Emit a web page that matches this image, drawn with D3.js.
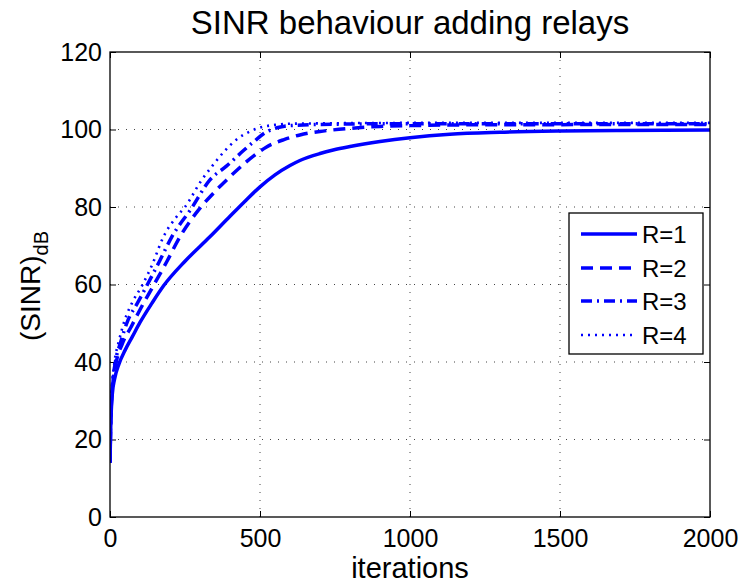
<!DOCTYPE html>
<html>
<head>
<meta charset="utf-8">
<script src="https://cdn.jsdelivr.net/npm/d3@7"></script>
<style>
  html, body { margin: 0; padding: 0; background: #fff; }
  svg { display: block; font-family: "Liberation Sans", Arial, Helvetica, sans-serif; }
</style>
</head>
<body>
<svg id="chart" width="742" height="586"></svg>
<script>
// SINR (dB) against iteration count for 1..4 relays
const xTicks = [0, 500, 1000, 1500, 2000];
const yTicks = [0, 20, 40, 60, 80, 100, 120];

const r1 = [[0,14],[2,22],[4,27],[8,32],[15,35.5],[30,39.5],[50,43],[75,46.6],[100,50.2],[140,55.2],[178,59.6],[250,66],[333,72.3],[400,77.6],[450,81.5],[500,85.2],[550,88.3],[600,90.7],[633,92],[700,93.8],[744,94.7],[800,95.6],[900,96.9],[1000,97.9],[1133,98.8],[1300,99.3],[1500,99.6],[1700,99.75],[2000,99.85]];
const r2 = [[0,14],[2,23],[4,28],[8,33],[21,40],[40,44.5],[72,49.3],[100,53.5],[144,59.6],[190,66],[233,72.3],[300,79.7],[350,84],[389,87],[433,90.2],[489,93.8],[522,95.5],[580,97.4],[633,98.6],[700,99.5],[744,99.9],[800,100.3],[900,100.8],[1000,101],[1200,101.2],[2000,101.3]];
const r3 = [[0,14],[2,24],[4,29],[8,34],[18,40],[35,45],[60,50.8],[90,55],[122,59.6],[165,66],[206,72.3],[272,79.7],[333,87],[389,90.6],[444,94.5],[480,96.9],[522,99.4],[560,100.5],[600,101],[700,101.3],[1000,101.5],[2000,101.5]];
const r4 = [[0,14],[2,25],[4,30],[8,35],[15,40],[30,45.5],[49,50.8],[75,55.5],[106,59.6],[140,65],[178,72.3],[220,77.3],[250,80],[306,87],[340,90.5],[385,94.7],[420,97.3],[467,99.5],[500,100.5],[550,101.2],[600,101.5],[1000,101.7],[2000,101.7]];

const seriesNames = ["R=1", "R=2", "R=3", "R=4"];
const seriesData = [r1, r2, r3, r4];
const dashes = [null, "12,7", "11,5,2,5", "2,5"];
const widths = [3.5, 3.5, 3.5, 2.6];

const plot = { left: 110, right: 710, top: 52, bottom: 517 };

const svg = d3.select("#chart");
const x = d3.scaleLinear().domain([0, 2000]).range([plot.left, plot.right]);
const y = d3.scaleLinear().domain([0, 120]).range([plot.bottom, plot.top]);

// dotted grid
const grid = svg.append("g").attr("stroke", "#444").attr("stroke-width", 1).attr("stroke-dasharray", "1,7");
grid.selectAll("line.gx").data(xTicks.slice(1, -1)).join("line")
  .attr("x1", d => x(d)).attr("x2", d => x(d)).attr("y1", plot.bottom).attr("y2", plot.top);
grid.selectAll("line.gy").data(yTicks.slice(1, -1)).join("line")
  .attr("y1", d => y(d)).attr("y2", d => y(d)).attr("x1", plot.left).attr("x2", plot.right);

// axes with inward ticks on all four sides
const tickLen = 6;
const fmt = d3.format("d");
const bottomAxis = d3.axisBottom(x).tickValues(xTicks).tickSize(-tickLen).tickPadding(12).tickFormat(fmt);
const topAxis = d3.axisTop(x).tickValues(xTicks).tickSize(-tickLen).tickFormat("");
const leftAxis = d3.axisLeft(y).tickValues(yTicks).tickSize(-tickLen).tickPadding(8).tickFormat(fmt);
const rightAxis = d3.axisRight(y).tickValues(yTicks).tickSize(-tickLen).tickFormat("");

function styleAxis(g) {
  g.select(".domain").remove();
  g.selectAll(".tick line").attr("stroke", "#000").attr("stroke-width", 1);
  g.selectAll(".tick text").attr("fill", "#000").attr("font-size", 25)
    .attr("font-family", "Liberation Sans, Arial, sans-serif");
}
svg.append("g").attr("transform", `translate(0,${plot.bottom})`).call(bottomAxis).call(styleAxis);
svg.append("g").attr("transform", `translate(0,${plot.top})`).call(topAxis).call(styleAxis);
svg.append("g").attr("transform", `translate(${plot.left},0)`).call(leftAxis).call(styleAxis);
svg.append("g").attr("transform", `translate(${plot.right},0)`).call(rightAxis).call(styleAxis);

// curves
const line = d3.line().x(d => x(d[0])).y(d => y(d[1])).curve(d3.curveMonotoneX);
svg.append("clipPath").attr("id", "plotClip").append("rect")
  .attr("x", plot.left).attr("y", plot.top).attr("width", plot.right - plot.left).attr("height", plot.bottom - plot.top);
const curves = svg.append("g").attr("clip-path", "url(#plotClip)");
seriesData.forEach((s, i) => {
  curves.append("path").datum(s).attr("d", line)
    .attr("fill", "none").attr("stroke", "#0000ff")
    .attr("stroke-width", widths[i])
    .attr("stroke-dasharray", dashes[i])
    .attr("stroke-linejoin", "round");
});

// frame
svg.append("rect").attr("x", plot.left).attr("y", plot.top)
  .attr("width", plot.right - plot.left).attr("height", plot.bottom - plot.top)
  .attr("fill", "none").attr("stroke", "#000").attr("stroke-width", 1.3);

// legend
const lg = svg.append("g");
const lgBox = { x: 569, y: 213, w: 134, h: 141 };
lg.append("rect").attr("x", lgBox.x).attr("y", lgBox.y).attr("width", lgBox.w).attr("height", lgBox.h)
  .attr("fill", "#fff").attr("stroke", "#000").attr("stroke-width", 1.3);
const rowY = [234, 268, 301, 335];
seriesNames.forEach((name, i) => {
  lg.append("line").attr("x1", 581).attr("x2", 637).attr("y1", rowY[i]).attr("y2", rowY[i])
    .attr("stroke", "#0000ff").attr("stroke-width", widths[i]).attr("stroke-dasharray", dashes[i]);
  lg.append("text").attr("x", 642).attr("y", rowY[i]).attr("dy", "0.36em")
    .attr("font-size", 24).attr("fill", "#000").text(name);
});

// title and axis labels
svg.append("text").attr("x", 410).attr("y", 34).attr("text-anchor", "middle")
  .attr("font-size", 33).attr("fill", "#000").text("SINR behaviour adding relays");
svg.append("text").attr("x", 410).attr("y", 578).attr("text-anchor", "middle")
  .attr("font-size", 29).attr("fill", "#000").text("iterations");
const yl = svg.append("text").attr("transform", "translate(40,286) rotate(-90)")
  .attr("text-anchor", "middle").attr("font-size", 28).attr("fill", "#000");
yl.append("tspan").text("(SINR)");
yl.append("tspan").attr("dy", 8).attr("font-size", 20).text("dB");
</script>
</body>
</html>
